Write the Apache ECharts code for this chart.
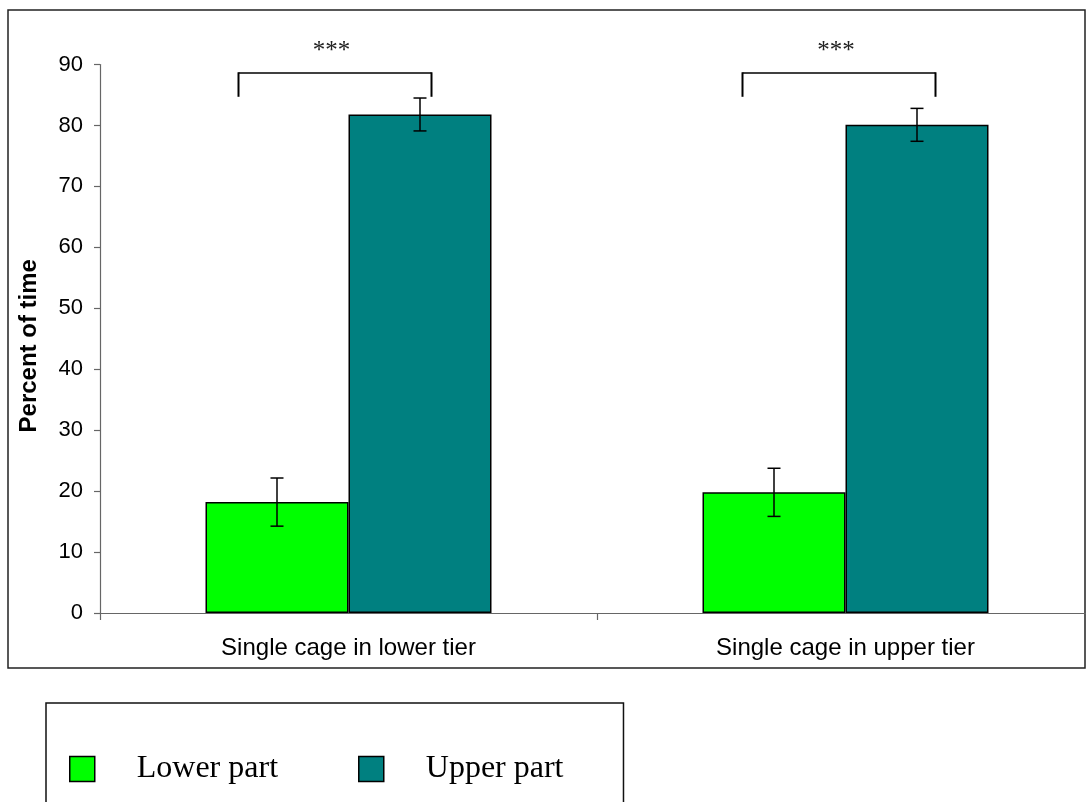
<!DOCTYPE html>
<html><head><meta charset="utf-8">
<script src="https://cdn.jsdelivr.net/npm/echarts/dist/echarts.min.js"></script>
<style>html,body{margin:0;padding:0;background:#fff}#c{width:1086px;height:802px}</style>
</head><body><div id="c"></div>
<script>
// ---- data ----
const categories = ['Single cage in lower tier', 'Single cage in upper tier'];
const seriesNames = ['Lower part', 'Upper part'];
const lowerPart = [18.2, 19.8];
const upperPart = [81.8, 80.1];
const lowerErr = [3.95, 3.95];
const upperErr = [2.7, 2.7];
const sigLabels = ['***', '***'];
const bracketTop = [88.6, 88.6];
const bracketBottom = [84.7, 84.7];
const yMin = 0, yMax = 90, yStep = 10;

// ---- layout / style constants ----
const BAR_W = 143;
const BRACKET_OFF = [{l: -110, r: 83, star: -17}, {l: -103, r: 90, star: -9.5}];
const AX = '#666';

const chart = echarts.init(document.getElementById('c'), null, {renderer: 'canvas'});

function errRender(side) {
  return function (params, api) {
    const cat = api.value(0);
    const lo = api.coord([cat, api.value(1)]);
    const hi = api.coord([cat, api.value(2)]);
    const x = lo[0] + side * BAR_W / 2;
    const hw = 6.5;
    const style = {stroke: '#000', lineWidth: 1.5, fill: null};
    return {type: 'group', children: [
      {type: 'line', shape: {x1: x, y1: lo[1], x2: x, y2: hi[1]}, style},
      {type: 'line', shape: {x1: x - hw, y1: lo[1], x2: x + hw, y2: lo[1]}, style},
      {type: 'line', shape: {x1: x - hw, y1: hi[1], x2: x + hw, y2: hi[1]}, style}
    ]};
  };
}

function bracketRender(params, api) {
  const i = params.dataIndex;
  const cat = api.value(0);
  const top = api.coord([cat, api.value(1)]);
  const bot = api.coord([cat, api.value(2)]);
  const o = BRACKET_OFF[i];
  const xl = top[0] + o.l, xr = top[0] + o.r;
  const style = {stroke: '#000', lineWidth: 2, fill: null};
  return {type: 'group', children: [
    {type: 'line', shape: {x1: xl, y1: top[1], x2: xr, y2: top[1]}, style: {stroke: '#000', lineWidth: 1.5}},
    {type: 'line', shape: {x1: xl, y1: top[1] - 0.75, x2: xl, y2: bot[1]}, style},
    {type: 'line', shape: {x1: xr, y1: top[1] - 0.75, x2: xr, y2: bot[1]}, style},
    {type: 'text', x: top[0] + o.star, y: top[1] - 22, style: {
      text: sigLabels[i], fill: '#222', font: '25px "Liberation Serif", "Times New Roman", serif',
      align: 'center', verticalAlign: 'middle'}}
  ]};
}

const option = {
  backgroundColor: '#fff',
  animation: false,
  graphic: [{
    type: 'rect', shape: {x: 8, y: 10, width: 1077, height: 658},
    style: {fill: null, stroke: '#222', lineWidth: 1.5}, silent: true, z: -1
  }],
  grid: {left: 100, top: 64.5, height: 548.5, width: 994, containLabel: false, outerBoundsMode: 'none'},
  legend: {
    data: seriesNames,
    left: 46, top: 703,
    orient: 'horizontal',
    icon: 'rect',
    itemWidth: 25, itemHeight: 25,
    itemGap: 80,
    padding: [50, 60, 60, 23],
    borderColor: '#111', borderWidth: 1.5,
    backgroundColor: '#fff',
    itemStyle: {borderColor: '#000', borderWidth: 1.5},
    textStyle: {fontFamily: '"Liberation Serif", "Times New Roman", serif', fontSize: 32, color: '#000', padding: [0, 0, 0, 37]}
  },
  xAxis: {
    type: 'category', data: categories,
    axisLine: {lineStyle: {color: AX, width: 1.2}},
    axisTick: {show: true, length: 7, lineStyle: {color: AX, width: 1.2}},
    axisLabel: {color: '#000', fontFamily: '"Liberation Sans", Arial, sans-serif', fontSize: 24, margin: 23}
  },
  yAxis: {
    type: 'value', min: yMin, max: yMax, interval: yStep,
    name: 'Percent of time', nameLocation: 'middle', nameRotate: 90, nameGap: 59,
    nameTextStyle: {color: '#000', fontFamily: '"Liberation Sans", Arial, sans-serif', fontSize: 24, fontWeight: 'bold', padding: [0, 14, 0, 0]},
    axisLine: {show: true, lineStyle: {color: AX, width: 1.2}},
    axisTick: {show: true, length: 6, lineStyle: {color: AX, width: 1.2}},
    axisLabel: {color: '#000', fontFamily: '"Liberation Sans", Arial, sans-serif', fontSize: 22, margin: 17},
    splitLine: {show: false}
  },
  series: [
    {name: seriesNames[0], type: 'bar', data: lowerPart, barWidth: BAR_W, barGap: '0%',
     itemStyle: {color: '#00FF00', borderColor: '#000', borderWidth: 1.5}},
    {name: seriesNames[1], type: 'bar', data: upperPart, barWidth: BAR_W, barGap: '0%',
     itemStyle: {color: '#008080', borderColor: '#000', borderWidth: 1.5}},
    {type: 'custom', renderItem: errRender(-1), clip: false, z: 5,
     data: categories.map((c, i) => [i, lowerPart[i] - lowerErr[i], lowerPart[i] + lowerErr[i]])},
    {type: 'custom', renderItem: errRender(1), clip: false, z: 5,
     data: categories.map((c, i) => [i, upperPart[i] - upperErr[i], upperPart[i] + upperErr[i]])},
    {type: 'custom', renderItem: bracketRender, clip: false, z: 5,
     data: categories.map((c, i) => [i, bracketTop[i], bracketBottom[i]])}
  ]
};
chart.setOption(option);
</script></body></html>
